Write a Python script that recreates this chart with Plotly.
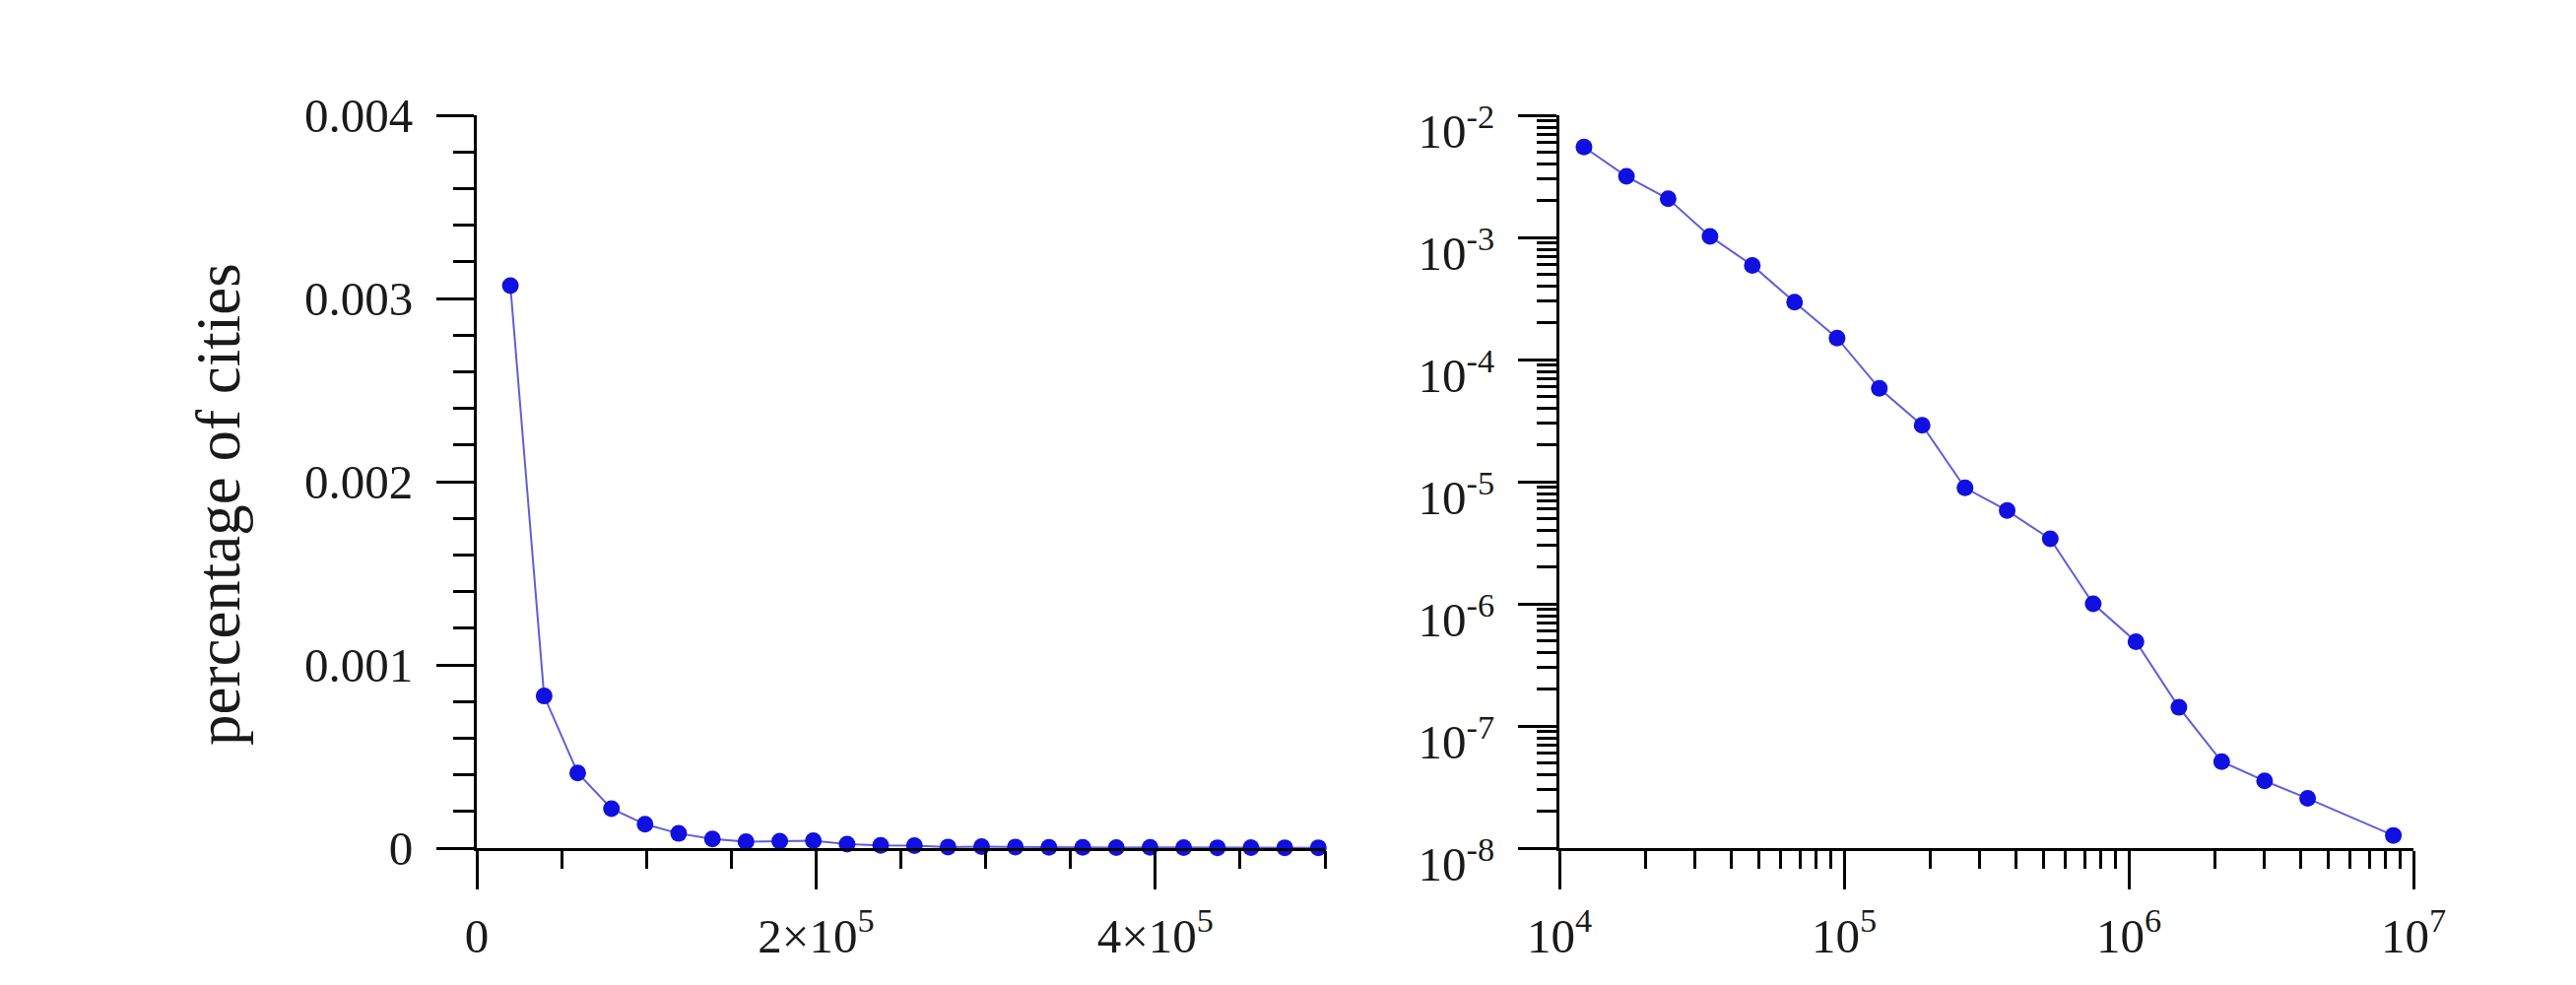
import plotly.graph_objects as go

# ---------------- data ----------------
# left panel: linear histogram (city size vs fraction of cities)
left_x = [19800, 39700, 59500, 79400, 99200, 119000, 138900, 158700, 178600, 198400,
          218300, 238100, 258000, 277800, 297600, 317500, 337300, 357200, 377000, 396900,
          416700, 436600, 456400, 476300, 496100]
left_y = [0.00307, 0.00083, 0.00041, 0.000215, 0.00013, 0.00008, 0.00005, 0.000035, 0.000038, 0.00004,
          0.000021, 0.000015, 0.000014, 0.000006, 0.000008, 0.000006, 0.000004, 0.000004, 0.000003, 0.000004,
          0.000003, 0.000002, 0.000003, 0.000002, 0.000002]

# right panel: log-log histogram
right_x = [12200, 17200, 24100, 33800, 47600, 67000, 94500, 133000, 188000, 266000,
           374000, 530000, 750000, 1060000, 1500000, 2120000, 3000000, 4250000, 8500000]
right_y = [5.5e-3, 3.16e-3, 2.07e-3, 1.02e-3, 5.9e-4, 2.95e-4, 1.5e-4, 5.8e-5, 2.9e-5, 8.9e-6,
           5.8e-6, 3.4e-6, 1.0e-6, 4.9e-7, 1.42e-7, 5.1e-8, 3.55e-8, 2.55e-8, 1.27e-8]

# tick labels
left_xticks = [0, 200000, 400000]
left_xticktext = ["0", "2×10<sup>5</sup>", "4×10<sup>5</sup>"]
left_yticks = [0, 0.001, 0.002, 0.003, 0.004]
left_yticktext = ["0", "0.001", "0.002", "0.003", "0.004"]
right_xticks = [1e4, 1e5, 1e6, 1e7]
right_xticktext = ["10<sup>4</sup>", "10<sup>5</sup>", "10<sup>6</sup>", "10<sup>7</sup>"]
right_yticks = [1e-8, 1e-7, 1e-6, 1e-5, 1e-4, 1e-3, 1e-2]
right_yticktext = ["10<sup>-8</sup>", "10<sup>-7</sup>", "10<sup>-6</sup>", "10<sup>-5</sup>",
                   "10<sup>-4</sup>", "10<sup>-3</sup>", "10<sup>-2</sup>"]
y_title = "percentage of cities"

# ---------------- style ----------------
OFF = 8                      # default page body margin
W, H = 2615 - 2 * OFF, 1000 - 2 * OFF
FONT = "Liberation Serif, Times New Roman, serif"
LINE_COLOR = "rgb(95,95,215)"
MARK_COLOR = "#1010e0"
TXT = "#1a1a1a"
TICKFONT = dict(family=FONT, size=49, color=TXT)


def px_x(p):
    return (p - OFF) / W


def px_y(p):
    return 1 - (p - OFF) / H


left_xminor = [50000, 100000, 150000, 250000, 300000, 350000, 450000, 500000]
left_yminor = [v * 0.0002 for v in range(1, 20) if v % 5 != 0]
right_xminor = [m * 10 ** e for e in range(4, 7) for m in range(2, 10)]
right_yminor = [m * 10.0 ** e for e in range(-8, -2) for m in range(2, 10)]

fig = go.Figure()
fig.add_trace(go.Scatter(x=left_x, y=left_y, mode="lines+markers", xaxis="x", yaxis="y",
                         line=dict(color=LINE_COLOR, width=2),
                         marker=dict(color=MARK_COLOR, size=17), cliponaxis=False))
fig.add_trace(go.Scatter(x=right_x, y=right_y, mode="lines+markers", xaxis="x2", yaxis="y2",
                         line=dict(color=LINE_COLOR, width=2),
                         marker=dict(color=MARK_COLOR, size=17), cliponaxis=False))


def axis(**kw):
    base = dict(showline=True, linecolor="black", linewidth=3, showgrid=False, zeroline=False,
                ticks="outside", tickwidth=3, tickcolor="black", tickfont=TICKFONT,
                tickmode="array", automargin=False)
    base.update(kw)
    return base


def minor(vals, ln):
    return dict(tickmode="array", tickvals=vals, ticks="outside", ticklen=ln, tickwidth=3,
                tickcolor="black", showgrid=False)


ydom = [px_y(861), px_y(117)]
fig.update_layout(
    template="none",
    width=W, height=H, margin=dict(l=0, r=0, t=0, b=0, pad=0, autoexpand=False),
    paper_bgcolor="white", plot_bgcolor="white", showlegend=False,
    font=dict(family=FONT, color=TXT, size=49),
    xaxis=axis(domain=[px_x(484), px_x(1345)], range=[0, 500000], anchor="y",
               tickvals=left_xticks, ticktext=left_xticktext, ticklen=39,
               ticklabelstandoff=5, minor=minor(left_xminor, 18)),
    yaxis=axis(domain=ydom, range=[0, 0.004], anchor="x",
               tickvals=left_yticks, ticktext=left_yticktext, ticklen=38,
               ticklabelstandoff=14, minor=minor(left_yminor, 21)),
    xaxis2=axis(domain=[px_x(1583), px_x(2450)], type="log", range=[4, 7], anchor="y2",
                tickvals=right_xticks, ticktext=right_xticktext, ticklen=39,
                ticklabelstandoff=5, minor=minor(right_xminor, 18)),
    yaxis2=axis(domain=ydom, type="log", range=[-8, -2], anchor="x2",
                tickvals=right_yticks, ticktext=right_yticktext, ticklen=39,
                ticklabelstandoff=14, ticklabelshift=16, minor=minor(right_yminor, 20)),
    annotations=[dict(text=y_title, xref="paper", yref="paper", x=px_x(222), y=px_y(512),
                      showarrow=False, textangle=-90, xanchor="center", yanchor="middle",
                      font=dict(family=FONT, size=63, color=TXT))],
)

fig.write_html("out.html")
